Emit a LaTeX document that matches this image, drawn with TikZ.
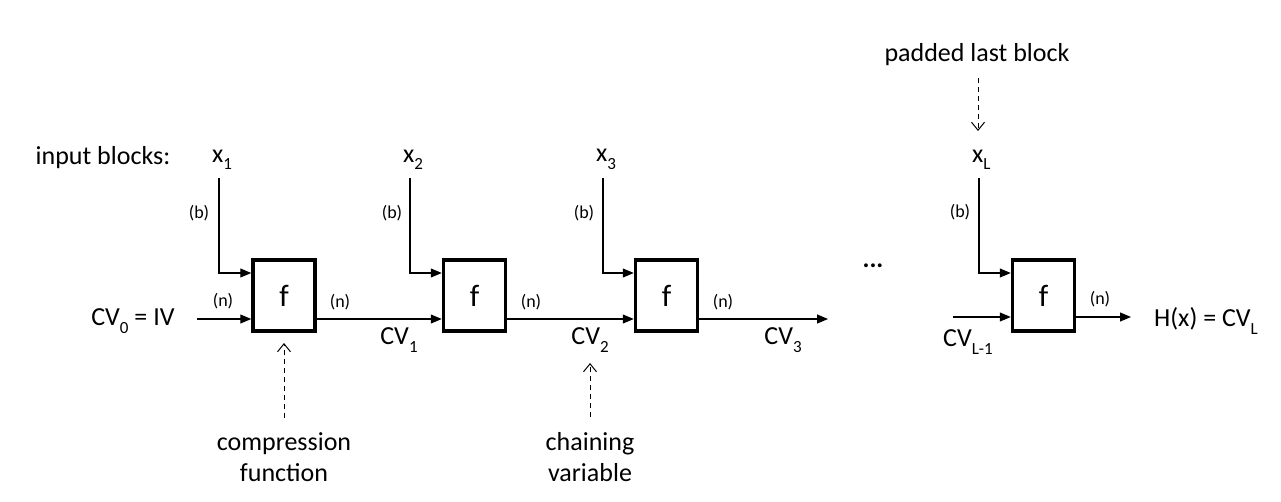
\documentclass[tikz,border=0pt]{standalone}
\usepackage{fontspec}
\setmainfont{Carlito}
\usetikzlibrary{arrows.meta}
\newcommand{\mysub}[1]{\raisebox{-0.3em}{\fontsize{17}{17}\selectfont #1}}
\begin{document}
\begin{tikzpicture}[x=1pt,y=-1pt,
  lbl/.style={font=\fontsize{26}{28}\selectfont, inner sep=0pt},
  sml/.style={font=\fontsize{18}{20}\selectfont, inner sep=0pt},
  fbox/.style={draw, line width=3.5pt, minimum width=62pt, minimum height=71pt, inner sep=0pt, font=\fontsize{31}{31}\selectfont},
  arr/.style={line width=1.1pt, -{Triangle[length=11pt,width=9pt]}},
  darr/.style={line width=1pt, dash pattern=on 5pt off 4pt, -{Straight Barb[length=8pt,width=13pt]}}
]
\useasboundingbox (0,0) rectangle (1281,501);
% boxes
\node[fbox] (f1) at (284,295.5) {f};
\node[fbox] (f2) at (474.5,295.5) {f};
\node[fbox] (f3) at (666.5,295.5) {f};
\node[fbox] (f4) at (1043.5,295.5) {f};
% input labels
\node[lbl] (ib) at (103,158) {input blocks:};
\node[lbl, anchor=south west] (x1) at (212,170) {x\mysub{1}};
\node[lbl, anchor=south west] (x2) at (403,170) {x\mysub{2}};
\node[lbl, anchor=south west] (x3) at (596,170) {x\mysub{3}};
\node[lbl, anchor=south west] (xL) at (972,170) {x\mysub{L}};
\coordinate (t1) at (219,178);
\coordinate (t2) at (410,178);
\coordinate (t3) at (603,178);
\coordinate (t4) at (979,178);
\draw[arr] (t1) |- ([yshift=22.5pt]f1.west);
\draw[arr] (t2) |- ([yshift=22.5pt]f2.west);
\draw[arr] (t3) |- ([yshift=22.5pt]f3.west);
\draw[arr] (t4) |- ([yshift=22.5pt]f4.west);
\node[sml] (b1) at (199,213) {(b)};
\node[sml] (b2) at (392,213) {(b)};
\node[sml] (b3) at (584,213) {(b)};
\node[sml] (b4) at (960,212) {(b)};
% chaining
\node[lbl] (cv0) at (133,321) {CV\mysub{0} = IV};
\coordinate (s0) at (197,319);
\draw[arr] (s0) -- (f1.west |- s0);
\draw[arr] (f1.east |- s0) -- (f2.west |- s0);
\draw[arr] (f2.east |- s0) -- (f3.west |- s0);
\coordinate (e3) at (828,319);
\draw[arr] (f3.east |- s0) -- (e3);
\coordinate (sL) at (953,317);
\draw[arr] (sL) -- (f4.west |- sL);
\coordinate (eL) at (1131,317);
\draw[arr] (f4.east |- eL) -- (eL);
\node[sml] (n0) at (223,301) {(n)};
\node[sml] (n1) at (340,302) {(n)};
\node[sml] (n2) at (531,302) {(n)};
\node[sml] (n3) at (723,302) {(n)};
\node[sml] (n4) at (1100,299) {(n)};
\node[lbl] (cv1) at (399,340) {CV\mysub{1}};
\node[lbl] (cv2) at (590,340) {CV\mysub{2}};
\node[lbl] (cv3) at (783,340) {CV\mysub{3}};
\node[lbl] (cvL1) at (968,342) {CV\mysub{L-1}};
\node[lbl] (hx) at (1206,321) {H(x) = CV\mysub{L}};
\node[lbl] (dots) at (873,266) {\textbf{...}};
% annotations
\node[lbl] (pad) at (977,55) {padded last block};
\coordinate (pa) at (978,78);
\coordinate (pb) at (978,131);
\draw[darr] (pa) -- (pb);
\node[lbl, align=center, font=\fontsize{26}{31}\selectfont] (cf) at (284,457) {compression\\function};
\node[lbl, align=center, font=\fontsize{26}{31}\selectfont] (cvar) at (590,457) {chaining\\variable};
\coordinate (ca) at (284,418);
\coordinate (cb) at (284,343);
\draw[darr] (ca) -- (cb);
\coordinate (va) at (590,417);
\coordinate (vb) at (590,363);
\draw[darr] (va) -- (vb);
\end{tikzpicture}
\end{document}
